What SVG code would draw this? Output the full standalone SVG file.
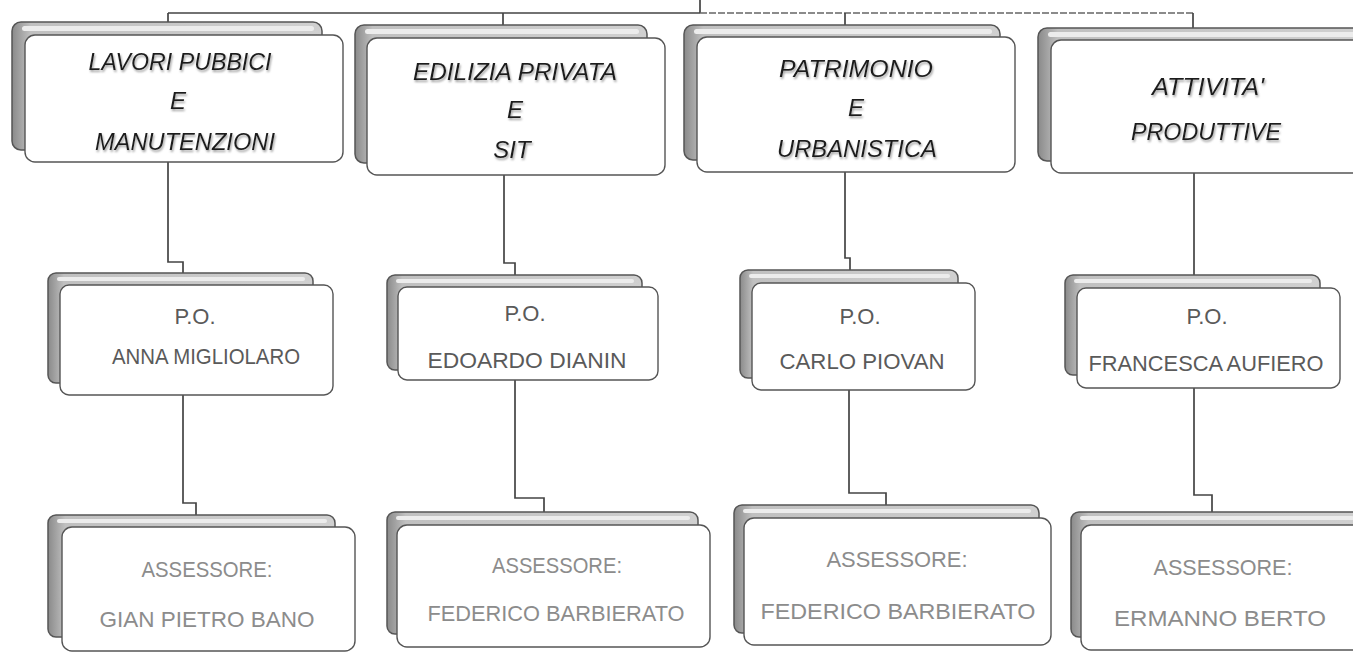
<svg xmlns="http://www.w3.org/2000/svg" width="1353" height="653" viewBox="0 0 1353 653">
<defs>
<linearGradient id="gBack" x1="0" y1="0" x2="1" y2="0">
<stop offset="0" stop-color="#8a8a8a"/>
<stop offset="0.06" stop-color="#c0c0c0"/>
<stop offset="1" stop-color="#d0d0d0"/>
</linearGradient>
<filter id="sh" x="-10%" y="-20%" width="120%" height="150%">
<feDropShadow dx="1" dy="2" stdDeviation="1" flood-color="#888" flood-opacity="0.8"/>
</filter>
</defs>
<style>
.back{fill:url(#gBack);stroke:#555;stroke-width:1.5}
.hl{fill:#ececec;stroke:none}
.front{fill:#fff;stroke:#555;stroke-width:1.4}
.t1{font-family:"Liberation Sans",Arial,sans-serif;font-style:italic;font-size:24px;fill:#1c1c1c;text-anchor:middle}
.t2{font-family:"Liberation Sans",Arial,sans-serif;font-size:22px;fill:#5a5a5a;text-anchor:middle}
.t3{font-family:"Liberation Sans",Arial,sans-serif;font-size:22px;fill:#8c8c8c;text-anchor:middle}
.c{fill:none;stroke:#444;stroke-width:1.7}
.cd{fill:none;stroke:#666;stroke-width:1.6;stroke-dasharray:7 2}
</style>
<rect width="1353" height="653" fill="#fff"/>

<g id="connectors">
<path class="c" d="M700 0 V13 M168 13 H700"/>
<path class="cd" d="M700 13 H1193"/>
<path class="c" d="M168 13 V22 M503 13 V25 M845 13 V25 M1193 13 V28"/>
<path class="c" d="M168 162 V262 H183 V273 M183 395 V503 H196 V515"/>
<path class="c" d="M504 175 V263 H515 V275 M515 380 V498 H544 V512"/>
<path class="c" d="M845 172 V258 H850 V270 M849 390 V493 H886 V505"/>
<path class="c" d="M1194 173 V275 M1194 388 V495 H1212 V512"/>
</g>

<g id="n-lavori">
<rect class="back" x="12" y="22" width="310" height="128" rx="9"/>
<rect class="hl" x="22" y="26" width="292" height="5" rx="2.5"/>
<rect class="front" x="25" y="35" width="318" height="127" rx="10"/>
<g filter="url(#sh)">
<text class="t1" x="180" y="70" textLength="183" lengthAdjust="spacingAndGlyphs">LAVORI PUBBICI</text>
<text class="t1" x="178" y="109">E</text>
<text class="t1" x="185" y="150" textLength="180" lengthAdjust="spacingAndGlyphs">MANUTENZIONI</text>
</g>
</g>

<g id="n-edilizia">
<rect class="back" x="355" y="25" width="292" height="138" rx="9"/>
<rect class="hl" x="365" y="29" width="274" height="5" rx="2.5"/>
<rect class="front" x="367" y="38" width="298" height="137" rx="10"/>
<g filter="url(#sh)">
<text class="t1" x="515" y="80" textLength="204" lengthAdjust="spacingAndGlyphs">EDILIZIA PRIVATA</text>
<text class="t1" x="515" y="118">E</text>
<text class="t1" x="512" y="158">SIT</text>
</g>
</g>

<g id="n-patrimonio">
<rect class="back" x="684" y="25" width="316" height="135" rx="9"/>
<rect class="hl" x="694" y="29" width="298" height="5" rx="2.5"/>
<rect class="front" x="697" y="37" width="318" height="135" rx="10"/>
<g filter="url(#sh)">
<text class="t1" x="856" y="77" textLength="154" lengthAdjust="spacingAndGlyphs">PATRIMONIO</text>
<text class="t1" x="856" y="116">E</text>
<text class="t1" x="857" y="157" textLength="160" lengthAdjust="spacingAndGlyphs">URBANISTICA</text>
</g>
</g>

<g id="n-attivita">
<rect class="back" x="1038" y="28" width="330" height="133" rx="9"/>
<rect class="hl" x="1048" y="32" width="312" height="5" rx="2.5"/>
<rect class="front" x="1051" y="40" width="320" height="133" rx="10"/>
<g filter="url(#sh)">
<text class="t1" x="1208" y="95" textLength="112" lengthAdjust="spacingAndGlyphs">ATTIVITA'</text>
<text class="t1" x="1206" y="140" textLength="150" lengthAdjust="spacingAndGlyphs">PRODUTTIVE</text>
</g>
</g>

<g id="po-migliolaro">
<rect class="back" x="48" y="273" width="265" height="110" rx="8"/>
<rect class="hl" x="57" y="277" width="248" height="4" rx="2"/>
<rect class="front" x="60" y="285" width="273" height="110" rx="9"/>
<text class="t2" x="195" y="324">P.O.</text>
<text class="t2" x="206" y="364" textLength="188" lengthAdjust="spacingAndGlyphs">ANNA MIGLIOLARO</text>
</g>

<g id="po-dianin">
<rect class="back" x="387" y="275" width="255" height="95" rx="8"/>
<rect class="hl" x="396" y="279" width="238" height="4" rx="2"/>
<rect class="front" x="398" y="287" width="260" height="93" rx="9"/>
<text class="t2" x="525" y="321">P.O.</text>
<text class="t2" x="527" y="368" textLength="199" lengthAdjust="spacingAndGlyphs">EDOARDO DIANIN</text>
</g>

<g id="po-piovan">
<rect class="back" x="740" y="270" width="218" height="108" rx="8"/>
<rect class="hl" x="749" y="274" width="201" height="4" rx="2"/>
<rect class="front" x="752" y="283" width="223" height="107" rx="9"/>
<text class="t2" x="860" y="324">P.O.</text>
<text class="t2" x="862" y="369" textLength="165" lengthAdjust="spacingAndGlyphs">CARLO PIOVAN</text>
</g>

<g id="po-aufiero">
<rect class="back" x="1065" y="275" width="255" height="100" rx="8"/>
<rect class="hl" x="1074" y="279" width="238" height="4" rx="2"/>
<rect class="front" x="1077" y="288" width="263" height="100" rx="9"/>
<text class="t2" x="1207" y="324">P.O.</text>
<text class="t2" x="1206" y="371" textLength="235" lengthAdjust="spacingAndGlyphs">FRANCESCA AUFIERO</text>
</g>

<g id="ass-bano">
<rect class="back" x="48" y="515" width="287" height="122" rx="8"/>
<rect class="hl" x="57" y="519" width="270" height="4" rx="2"/>
<rect class="front" x="62" y="527" width="293" height="124" rx="10"/>
<text class="t3" x="207" y="577" textLength="131" lengthAdjust="spacingAndGlyphs">ASSESSORE:</text>
<text class="t3" x="207" y="627" textLength="215" lengthAdjust="spacingAndGlyphs">GIAN PIETRO BANO</text>
</g>

<g id="ass-barbierato-1">
<rect class="back" x="387" y="512" width="311" height="122" rx="8"/>
<rect class="hl" x="396" y="516" width="294" height="4" rx="2"/>
<rect class="front" x="397" y="525" width="313" height="122" rx="10"/>
<text class="t3" x="557" y="573" textLength="130" lengthAdjust="spacingAndGlyphs">ASSESSORE:</text>
<text class="t3" x="556" y="621" textLength="257" lengthAdjust="spacingAndGlyphs">FEDERICO BARBIERATO</text>
</g>

<g id="ass-barbierato-2">
<rect class="back" x="734" y="505" width="305" height="128" rx="8"/>
<rect class="hl" x="743" y="509" width="288" height="4" rx="2"/>
<rect class="front" x="744" y="518" width="307" height="127" rx="10"/>
<text class="t3" x="897" y="567" textLength="141" lengthAdjust="spacingAndGlyphs">ASSESSORE:</text>
<text class="t3" x="898" y="619" textLength="275" lengthAdjust="spacingAndGlyphs">FEDERICO BARBIERATO</text>
</g>

<g id="ass-berto">
<rect class="back" x="1071" y="512" width="290" height="125" rx="8"/>
<rect class="hl" x="1080" y="516" width="274" height="4" rx="2"/>
<rect class="front" x="1081" y="525" width="290" height="125" rx="10"/>
<text class="t3" x="1223" y="575" textLength="139" lengthAdjust="spacingAndGlyphs">ASSESSORE:</text>
<text class="t3" x="1220" y="626" textLength="212" lengthAdjust="spacingAndGlyphs">ERMANNO BERTO</text>
</g>
</svg>
